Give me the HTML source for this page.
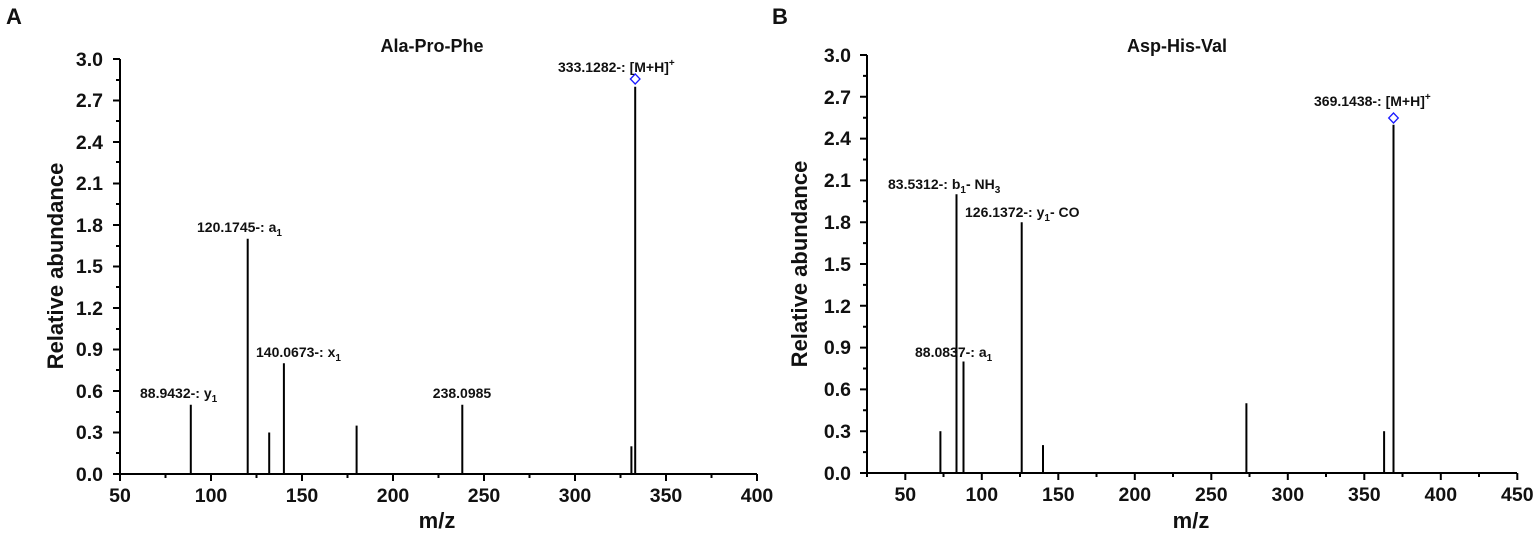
<!DOCTYPE html>
<html><head><meta charset="utf-8"><style>
html,body{margin:0;padding:0;background:#fff}
svg{display:block}
text{font-family:"Liberation Sans",Arial,sans-serif;font-weight:bold;fill:#111}
.t{font-size:19.5px}
.l{font-size:14px}
</style></head><body>
<svg width="1535" height="537" viewBox="0 0 1535 537" xmlns="http://www.w3.org/2000/svg">
<text x="6" y="24" font-size="22">A</text>
<text x="772" y="24" font-size="22">B</text>

<!-- Panel A -->
<g stroke="#000" stroke-width="2" fill="none">
<path d="M120 59 V474 H757"/>
<path d="M120 59h-7M120 100.5h-7M120 142h-7M120 183.5h-7M120 225h-7M120 266.5h-7M120 308h-7M120 349.5h-7M120 391h-7M120 432.5h-7M120 474h-7
M120 80h-4M120 121h-4M120 162h-4M120 204h-4M120 246h-4M120 287h-4M120 329h-4M120 370h-4M120 412h-4M120 453h-4"/>
<path d="M120 474v7M211 474v7M302 474v7M393 474v7M484 474v7M575 474v7M666 474v7M757 474v7M165.5 474v4M256.5 474v4M347.5 474v4M438.5 474v4M529.5 474v4M620.5 474v4M711.5 474v4"/>
</g>
<g stroke="#000" stroke-width="2">
<line x1="190.8" y1="474" x2="190.8" y2="404.8"/>
<line x1="247.7" y1="474" x2="247.7" y2="238.8"/>
<line x1="269.2" y1="474" x2="269.2" y2="432.5"/>
<line x1="283.9" y1="474" x2="283.9" y2="363.3"/>
<line x1="356.6" y1="474" x2="356.6" y2="425.6"/>
<line x1="462.3" y1="474" x2="462.3" y2="404.8"/>
<line x1="631.4" y1="474" x2="631.4" y2="446.3"/>
<line x1="635.2" y1="474" x2="635.2" y2="86.7"/>
</g>
<path d="M635.2 74 L640 79 L635.2 84 L630.4 79 Z" fill="none" stroke="#1a1aff" stroke-width="1.3"/>
<g class="t" text-anchor="end">
<text x="103" y="66">3.0</text><text x="103" y="107">2.7</text><text x="103" y="149">2.4</text><text x="103" y="190">2.1</text><text x="103" y="232">1.8</text><text x="103" y="273">1.5</text><text x="103" y="315">1.2</text><text x="103" y="356">0.9</text><text x="103" y="398">0.6</text><text x="103" y="439">0.3</text><text x="103" y="481">0.0</text>
</g>
<g class="t" text-anchor="middle">
<text x="120" y="502">50</text><text x="211" y="502">100</text><text x="302" y="502">150</text><text x="393" y="502">200</text><text x="484" y="502">250</text><text x="575" y="502">300</text><text x="666" y="502">350</text><text x="757" y="502">400</text>
</g>
<text x="437" y="528" font-size="22" text-anchor="middle">m/z</text>
<text transform="translate(63 266) rotate(-90)" font-size="22" text-anchor="middle">Relative abundance</text>
<text x="432" y="52" font-size="18" text-anchor="middle">Ala-Pro-Phe</text>
<g class="l">
<text x="140" y="398">88.9432-: y<tspan font-size="10" dy="4">1</tspan></text>
<text x="197" y="232">120.1745-: a<tspan font-size="10" dy="4">1</tspan></text>
<text x="256" y="357">140.0673-: x<tspan font-size="10" dy="4">1</tspan></text>
<text x="462" y="398" text-anchor="middle">238.0985</text>
<text x="558" y="72">333.1282-: [M+H]<tspan font-size="10" dy="-6">+</tspan></text>
</g>

<!-- Panel B -->
<g stroke="#000" stroke-width="2" fill="none">
<path d="M867 55 V473 H1517"/>
<path d="M867 55h-7M867 96.8h-7M867 138.6h-7M867 180.4h-7M867 222.2h-7M867 264h-7M867 305.8h-7M867 347.6h-7M867 389.4h-7M867 431.2h-7M867 473h-7
M867 75.9h-4M867 117.7h-4M867 159.5h-4M867 201.3h-4M867 243.1h-4M867 284.9h-4M867 326.7h-4M867 368.5h-4M867 410.3h-4M867 452.1h-4"/>
<path d="M905.3 473v7M981.8 473v7M1058.3 473v7M1134.8 473v7M1211.3 473v7M1287.8 473v7M1364.3 473v7M1440.8 473v7M1517.3 473v7
M867 473v4M943.5 473v4M1020 473v4M1096.5 473v4M1173 473v4M1249.5 473v4M1326 473v4M1402.5 473v4M1479 473v4"/>
</g>
<g stroke="#000" stroke-width="2">
<line x1="940.4" y1="473" x2="940.4" y2="431.2"/>
<line x1="956.5" y1="473" x2="956.5" y2="194.3"/>
<line x1="963.5" y1="473" x2="963.5" y2="361.5"/>
<line x1="1021.7" y1="473" x2="1021.7" y2="222.2"/>
<line x1="1043" y1="473" x2="1043" y2="445.1"/>
<line x1="1246.4" y1="473" x2="1246.4" y2="403.3"/>
<line x1="1384.1" y1="473" x2="1384.1" y2="431.2"/>
<line x1="1393.5" y1="473" x2="1393.5" y2="124.7"/>
</g>
<path d="M1393.5 113 L1398.3 118 L1393.5 123 L1388.7 118 Z" fill="none" stroke="#1a1aff" stroke-width="1.3"/>
<g class="t" text-anchor="end">
<text x="851" y="62">3.0</text><text x="851" y="104">2.7</text><text x="851" y="145">2.4</text><text x="851" y="187">2.1</text><text x="851" y="229">1.8</text><text x="851" y="271">1.5</text><text x="851" y="313">1.2</text><text x="851" y="354">0.9</text><text x="851" y="396">0.6</text><text x="851" y="438">0.3</text><text x="851" y="480">0.0</text>
</g>
<g class="t" text-anchor="middle">
<text x="905.3" y="501">50</text><text x="981.8" y="501">100</text><text x="1058.3" y="501">150</text><text x="1134.8" y="501">200</text><text x="1211.3" y="501">250</text><text x="1287.8" y="501">300</text><text x="1364.3" y="501">350</text><text x="1440.8" y="501">400</text><text x="1517.3" y="501">450</text>
</g>
<text x="1191" y="528" font-size="22" text-anchor="middle">m/z</text>
<text transform="translate(807 264) rotate(-90)" font-size="22" text-anchor="middle">Relative abundance</text>
<text x="1177" y="52" font-size="18" text-anchor="middle">Asp-His-Val</text>
<g class="l">
<text x="888" y="189">83.5312-: b<tspan font-size="10" dy="4">1</tspan><tspan dy="-4">- NH</tspan><tspan font-size="10" dy="4">3</tspan></text>
<text x="965" y="217">126.1372-: y<tspan font-size="10" dy="4">1</tspan><tspan dy="-4">- CO</tspan></text>
<text x="915" y="357">88.0837-: a<tspan font-size="10" dy="4">1</tspan></text>
<text x="1314" y="106">369.1438-: [M+H]<tspan font-size="10" dy="-6">+</tspan></text>
</g>
</svg>
</body></html>
